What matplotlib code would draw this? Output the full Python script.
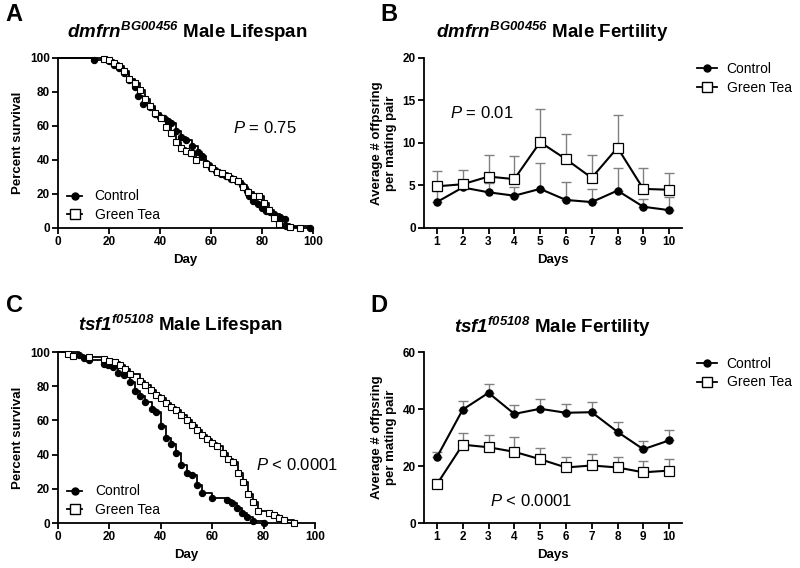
import numpy as np
import matplotlib
matplotlib.use('Agg')
import matplotlib.pyplot as plt
from matplotlib.lines import Line2D

plt.rcParams['font.family'] = ['Liberation Sans', 'DejaVu Sans']
plt.rcParams['mathtext.fontset'] = 'custom'
plt.rcParams['mathtext.it'] = 'Liberation Sans:italic:bold'
plt.rcParams['mathtext.rm'] = 'Liberation Sans:italic:bold'
plt.rcParams['mathtext.bf'] = 'Liberation Sans:italic:bold'
plt.rcParams['mathtext.sf'] = 'Liberation Sans:italic'

# ---- A: dmfrn lifespan (Kaplan-Meier, day / percent survival)
a_ctrl_day = [14, 20, 22, 24, 26, 28, 30, 31.5, 33.5, 36, 38, 40, 41.6, 43, 44.4, 46.4,
              48.4, 50.3, 52.7, 54.9, 56.5, 58, 60, 62, 64, 66, 68, 70, 72, 74, 75,
              76.5, 78.4, 80, 81.7, 83, 84.6, 86.9, 88.9, 89.5, 99]
a_ctrl_pct = [99, 98, 96, 94, 91, 87, 83, 77.5, 73, 71, 67, 65, 64.5, 63, 61.5, 57.2,
              53.7, 51.8, 48.4, 44.9, 42.4, 38, 35.5, 33.5, 32, 30.5, 29, 27.5, 25, 22, 19,
              15.6, 14.3, 12, 9.8, 9.2, 8, 6.4, 5.3, 1, 0]
a_gt_day = [18, 20, 22, 24, 26, 28, 30, 32.3, 34.2, 36.2, 38.2, 40.3, 42.2, 44.2, 46.1,
            48.4, 50.3, 52.3, 54.2, 58.2, 60.4, 62.4, 64.4, 66.7, 68.6, 70.6, 72.5, 74.5,
            76.7, 78.7, 80.7, 82.7, 84.7, 86.6, 90.8, 94.8]
a_gt_pct = [99.2, 98.6, 97.3, 95.1, 92.2, 87.5, 85, 81, 75.8, 71.7, 67.4, 64.5, 59.6, 55.7,
            50.8, 46.9, 45.5, 43.9, 40, 37.5, 35.2, 33.2, 32.2, 30.3, 28.7, 27.7, 24.4, 20.9,
            18.6, 18.6, 14.6, 10.7, 5.9, 2.5, 0.6, 0]

# ---- C: tsf1 lifespan
c_ctrl_day = [8, 10, 12, 18, 19.5, 21.5, 23.5, 25.5, 28, 30, 32, 34, 36.4, 38.3, 40, 42,
              44, 46, 48, 50, 52, 54, 56, 60, 65.6, 67.5, 69.5, 71.5, 73.5, 76, 80]
c_ctrl_pct = [98.2, 96.5, 95.5, 93, 92.5, 91, 88, 86.5, 82.5, 77.5, 74.5, 71, 66.5, 65, 57,
              50, 46, 41, 34, 29, 28, 22.5, 17.5, 14.5, 13.6, 11.5, 8.5, 6, 3.5, 1.2, 0]
c_gt_day = [4, 6, 12, 18, 20, 22, 24, 26, 28, 32, 34, 36, 38, 40, 42, 44, 46, 48, 50, 52,
            54, 56, 58, 60, 62, 64, 66, 68, 70, 72, 74, 76, 78, 82, 84, 86, 88, 92]
c_gt_pct = [99, 98, 97, 96, 95, 94.5, 92.5, 90, 87, 83, 81, 78, 75, 73, 70.5, 68, 66, 63,
            60, 57.5, 54.5, 51.5, 49, 47, 45, 41, 37.5, 35.5, 29, 24, 17, 12.5, 7, 5.8,
            4.8, 3, 1.5, 0]

# ---- B / D: fertility (mean and upper SEM)
days = np.arange(1, 11)
b_ctrl = [3.05, 4.77, 4.2, 3.8, 4.6, 3.3, 3.05, 4.4, 2.5, 2.1]
b_ctrl_up = [4.3, 5.3, 5.3, 4.8, 7.7, 5.45, 4.6, 7.1, 3.4, 3.6]
b_gt = [4.9, 5.15, 6.05, 5.75, 10.1, 8.1, 5.9, 9.45, 4.6, 4.5]
b_gt_up = [6.75, 6.85, 8.6, 8.5, 14.0, 11.1, 8.6, 13.35, 7.0, 6.45]

d_ctrl = [23.1, 39.8, 45.7, 38.3, 40.1, 38.7, 38.9, 32.0, 25.9, 29.0]
d_ctrl_up = [24.9, 43.0, 48.8, 41.4, 43.6, 41.9, 42.4, 35.3, 28.8, 32.6]
d_gt = [13.6, 27.5, 26.6, 25.0, 22.4, 19.5, 20.2, 19.5, 17.8, 18.4]
d_gt_up = [15.4, 31.6, 30.8, 30.3, 26.2, 23.3, 24.1, 23.3, 21.6, 22.4]


def style_axes(ax):
    for s in ['top', 'right']:
        ax.spines[s].set_visible(False)
    for s in ['left', 'bottom']:
        ax.spines[s].set_linewidth(1.3)
    ax.tick_params(direction='out', length=4, width=1.3, labelsize=8.5, pad=2)
    for lab in ax.get_xticklabels() + ax.get_yticklabels():
        lab.set_fontweight('bold')


def km(ax, d, p, marker, face, ms):
    ax.plot([0] + d, [100] + p, drawstyle='steps-post', color='black', lw=1.3,
            clip_on=False, zorder=2)
    ax.plot(d, p, ls='none', marker=marker, mfc=face, mec='black', ms=ms, mew=0.8,
            clip_on=False, zorder=3)


def fert(ax, m, up, marker, face, ms):
    m = np.array(m)
    up = np.array(up)
    ax.errorbar(days, m, yerr=[np.zeros_like(m), up - m], fmt='none', ecolor='#808080',
                elinewidth=1, capsize=3.5, capthick=1, zorder=1)
    ax.plot(days, m, color='black', lw=1.5, marker=marker, mfc=face, mec='black',
            ms=ms, mew=0.9, zorder=3, clip_on=False)


fig = plt.figure(figsize=(8, 5.68), dpi=100)

axA = fig.add_axes([0.0725, 0.5986, 0.3188, 0.2993])
axB = fig.add_axes([0.53, 0.5986, 0.3225, 0.2993])
axC = fig.add_axes([0.0725, 0.0792, 0.3213, 0.3009])
axD = fig.add_axes([0.53, 0.0792, 0.3225, 0.3009])

h_ctrl = Line2D([], [], color='black', lw=1.3, marker='o', mfc='black', mec='black', ms=5)
h_gt = Line2D([], [], color='black', lw=1.3, marker='s', mfc='white', mec='black', ms=6.5)

# lifespan panels
for ax, cd, cp, gd, gp, ptxt, pxy in [
        (axA, a_ctrl_day, a_ctrl_pct, a_gt_day, a_gt_pct, r'$\mathsf{P}$ = 0.75', (81, 59)),
        (axC, c_ctrl_day, c_ctrl_pct, c_gt_day, c_gt_pct, r'$\mathsf{P}$ < 0.0001', (93, 34))]:
    km(ax, cd, cp, 'o', 'black', 4.5)
    km(ax, gd, gp, 's', 'white', 5)
    ax.set_xlim(0, 100)
    ax.set_ylim(0, 100)
    ax.set_xticks([0, 20, 40, 60, 80, 100])
    ax.set_yticks([0, 20, 40, 60, 80, 100])
    ax.set_xlabel('Day', fontsize=9.5, fontweight='bold', labelpad=4)
    ax.set_ylabel('Percent survival', fontsize=9.5, fontweight='bold', labelpad=4)
    style_axes(ax)
    ax.text(pxy[0], pxy[1], ptxt, fontsize=12, ha='center', va='center')
    ax.legend([h_ctrl, h_gt], ['Control', 'Green Tea'], loc='center left',
              bbox_to_anchor=(0.035, 0.13), frameon=False, fontsize=10, handlelength=1.1,
              handletextpad=0.9, borderpad=0, borderaxespad=0, labelspacing=0.35,
              numpoints=1)

# fertility panels
for ax, cm, cu, gm, gu, ymax, yt, ptxt, pxy in [
        (axB, b_ctrl, b_ctrl_up, b_gt, b_gt_up, 20, [0, 5, 10, 15, 20],
         r'$\mathsf{P}$ = 0.01', (2.75, 13.5)),
        (axD, d_ctrl, d_ctrl_up, d_gt, d_gt_up, 60, [0, 20, 40, 60],
         r'$\mathsf{P}$ < 0.0001', (4.65, 7.6))]:
    fert(ax, cm, cu, 'o', 'black', 5.2)
    fert(ax, gm, gu, 's', 'white', 7)
    ax.set_xlim(0.5, 10.5)
    ax.set_ylim(0, ymax)
    ax.set_xticks(days)
    ax.set_yticks(yt)
    ax.set_xlabel('Days', fontsize=9.5, fontweight='bold', labelpad=4)
    ax.set_ylabel('Average # offpsring\nper mating pair', fontsize=9.5, fontweight='bold',
                  labelpad=4)
    style_axes(ax)
    ax.text(pxy[0], pxy[1], ptxt, fontsize=12, ha='center', va='center')
    ax.legend([h_ctrl, h_gt], ['Control', 'Green Tea'], loc='center left',
              bbox_to_anchor=(1.06, 0.878), frameon=False, fontsize=10, handlelength=1.4,
              handletextpad=0.7, borderpad=0, borderaxespad=0, labelspacing=0.35,
              numpoints=1)

# titles and panel letters
fig.text(0.234, 0.944, r'$dmfrn^{BG00456}$ Male Lifespan', fontsize=13.5, fontweight='bold',
         ha='center', va='center')
fig.text(0.69, 0.944, r'$dmfrn^{BG00456}$ Male Fertility', fontsize=13.5, fontweight='bold',
         ha='center', va='center')
fig.text(0.226, 0.428, r'$tsf1^{f05108}$ Male Lifespan', fontsize=13.5, fontweight='bold',
         ha='center', va='center')
fig.text(0.69, 0.425, r'$tsf1^{f05108}$ Male Fertility', fontsize=13.5, fontweight='bold',
         ha='center', va='center')

for lab, x, y in [('A', 0.018, 0.975), ('B', 0.486, 0.975), ('C', 0.018, 0.462),
                  ('D', 0.474, 0.462)]:
    fig.text(x, y, lab, fontsize=17, fontweight='bold', ha='center', va='center')

fig.savefig('out.png', dpi=100)
